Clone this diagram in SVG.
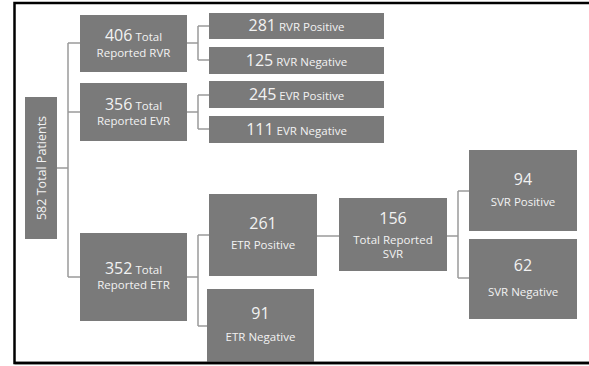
<svg xmlns="http://www.w3.org/2000/svg" width="589" height="366" viewBox="0 0 589 366">
<style>
.box{fill:#7a7a7a}
text{font-family:"Open Sans","Noto Sans","Liberation Sans",sans-serif;fill:#f2f2f2;text-anchor:middle}
.big{font-size:16px}
.sm{font-size:11.5px}
.pt{font-size:12.5px}
.conn{fill:none;stroke:#9a9a9a;stroke-width:1.5}
</style>
<rect x="14.5" y="3" width="580" height="360" fill="#fff" stroke="#000" stroke-width="2.5"/>
<g id="connectors">
<path class="conn" d="M57 168H68M68 43V277M68 43H80M68 112H80M68 277H80"/>
<path class="conn" d="M187 43H198M198 26V60M198 26H209M198 60H209"/>
<path class="conn" d="M187 112H198M198 95V129M198 95H209M198 129H209"/>
<path class="conn" d="M187 277H198M198 235V326M198 235H209M198 326H207"/>
<path class="conn" d="M317 236H339"/>
<path class="conn" d="M447 236H458M458 191V278M458 191H469M458 278H469"/>
</g>
<g id="total-patients">
<rect class="box" x="25" y="97" width="32" height="142"/>
<text class="pt" transform="translate(46 168) rotate(-90)">582 Total Patients</text>
</g>
<g id="total-rvr">
<rect class="box" x="80" y="15" width="107" height="57"/>
<text x="133.5" y="41"><tspan class="big">406</tspan><tspan class="sm"> Total</tspan></text>
<text class="sm" x="133.5" y="57">Reported RVR</text>
</g>
<g id="total-evr">
<rect class="box" x="80" y="83" width="107" height="58"/>
<text x="133.5" y="110"><tspan class="big">356</tspan><tspan class="sm"> Total</tspan></text>
<text class="sm" x="133.5" y="125">Reported EVR</text>
</g>
<g id="rvr-positive">
<rect class="box" x="209" y="13" width="175" height="26"/>
<text x="296.5" y="31"><tspan class="big">281</tspan><tspan class="sm"> RVR Positive</tspan></text>
</g>
<g id="rvr-negative">
<rect class="box" x="209" y="47" width="175" height="27"/>
<text x="296.5" y="66"><tspan class="big">125</tspan><tspan class="sm"> RVR Negative</tspan></text>
</g>
<g id="evr-positive">
<rect class="box" x="209" y="81" width="175" height="27"/>
<text x="296.5" y="100"><tspan class="big">245</tspan><tspan class="sm"> EVR Positive</tspan></text>
</g>
<g id="evr-negative">
<rect class="box" x="209" y="116" width="175" height="27"/>
<text x="296.5" y="135"><tspan class="big">111</tspan><tspan class="sm"> EVR Negative</tspan></text>
</g>
<g id="total-etr">
<rect class="box" x="80" y="233" width="107" height="88"/>
<text x="133.5" y="274"><tspan class="big">352</tspan><tspan class="sm"> Total</tspan></text>
<text class="sm" x="133.5" y="289">Reported ETR</text>
</g>
<g id="etr-positive">
<rect class="box" x="209" y="194" width="108" height="82"/>
<text class="big" x="263" y="229">261</text>
<text class="sm" x="263" y="249">ETR Positive</text>
</g>
<g id="etr-negative">
<rect class="box" x="207" y="289" width="107" height="73"/>
<text class="big" x="260.5" y="319">91</text>
<text class="sm" x="260.5" y="341">ETR Negative</text>
</g>
<g id="total-svr">
<rect class="box" x="339" y="198" width="108" height="73"/>
<text class="big" x="393" y="224">156</text>
<text class="sm" x="393" y="244">Total Reported</text>
<text class="sm" x="393" y="258">SVR</text>
</g>
<g id="svr-positive">
<rect class="box" x="469" y="150" width="108" height="81"/>
<text class="big" x="523" y="185">94</text>
<text class="sm" x="523" y="206">SVR Positive</text>
</g>
<g id="svr-negative">
<rect class="box" x="469" y="239" width="108" height="80"/>
<text class="big" x="523" y="271">62</text>
<text class="sm" x="523" y="296">SVR Negative</text>
</g>
<path d="M14.5 363H589" stroke="#000" stroke-width="2.5"/>
</svg>
